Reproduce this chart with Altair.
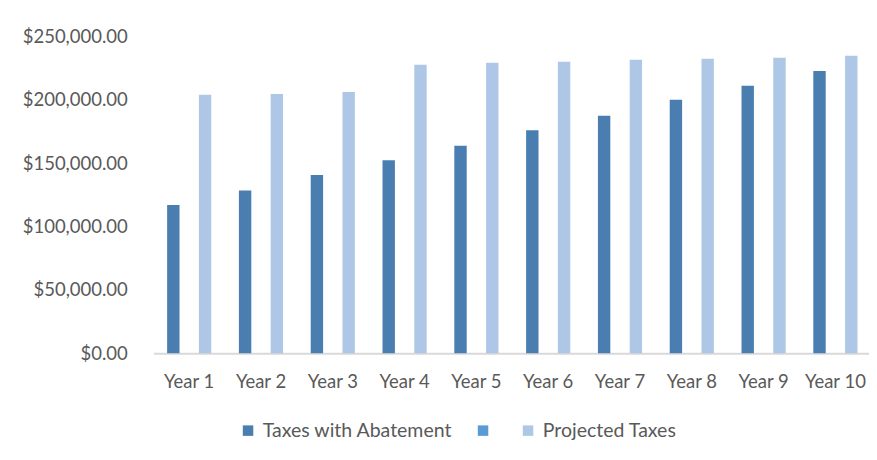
import altair as alt
import pandas as pd

years = ["Year 1", "Year 2", "Year 3", "Year 4", "Year 5",
         "Year 6", "Year 7", "Year 8", "Year 9", "Year 10"]
series = ["Taxes with Abatement", "", "Projected Taxes"]
abatement = [117100, 128400, 140800, 152400, 163700,
             176100, 187400, 200100, 211100, 222700]
blank = [None] * 10
projected = [204000, 204600, 206200, 227700, 229300,
             230100, 231700, 232400, 233200, 234800]
colors = ["#4A7EB0", "#5B9BD5", "#AEC7E6"]
y_ticks = [0, 50000, 100000, 150000, 200000, 250000]

rows = []
for name, vals in zip(series, [abatement, blank, projected]):
    for yr, v in zip(years, vals):
        rows.append({"year": yr, "series": name, "value": v})
df = pd.DataFrame(rows)

FONT = "Lato"
TXT = "#595959"
FS = 18.5

chart = alt.Chart(df).mark_bar().encode(
    x=alt.X("year:N", sort=years,
            scale=alt.Scale(paddingInner=0, paddingOuter=0, range=[0, 718]),
            axis=alt.Axis(title=None, labelAngle=0, ticks=False,
                          domainColor="#D9D9D9", domainWidth=2,
                          labelPadding=19, labelFontSize=FS,
                          labelColor=TXT, labelFont=FONT)),
    xOffset=alt.XOffset("series:N", sort=series,
                        scale=alt.Scale(domain=series, paddingInner=0.22,
                                        paddingOuter=0.87)),
    y=alt.Y("value:Q",
            scale=alt.Scale(domain=[0, 250000], nice=False),
            axis=alt.Axis(title=None, format="$,.2f", values=y_ticks,
                          grid=False, domain=False, ticks=False,
                          labelPadding=26, labelFontSize=FS,
                          labelColor=TXT, labelFont=FONT)),
    color=alt.Color("series:N", sort=series,
                    scale=alt.Scale(domain=series, range=colors),
                    legend=alt.Legend(orient="none", legendX=85,
                                      legendY=384, direction="horizontal",
                                      title=None, symbolType="square",
                                      symbolSize=110, symbolStrokeWidth=0,
                                      labelFontSize=19.5, labelColor=TXT,
                                      labelFont=FONT, columnPadding=20,
                                      labelOffset=5, labelLimit=400)),
).properties(
    width=715.7,
    height=316.8,
    autosize=alt.AutoSizeParams(type="none"),
    padding={"left": 145.3, "top": 28.5, "right": 0, "bottom": 95},
).configure_view(stroke=None)

chart.save("out.html", embed_options={"renderer": "svg", "actions": False})
